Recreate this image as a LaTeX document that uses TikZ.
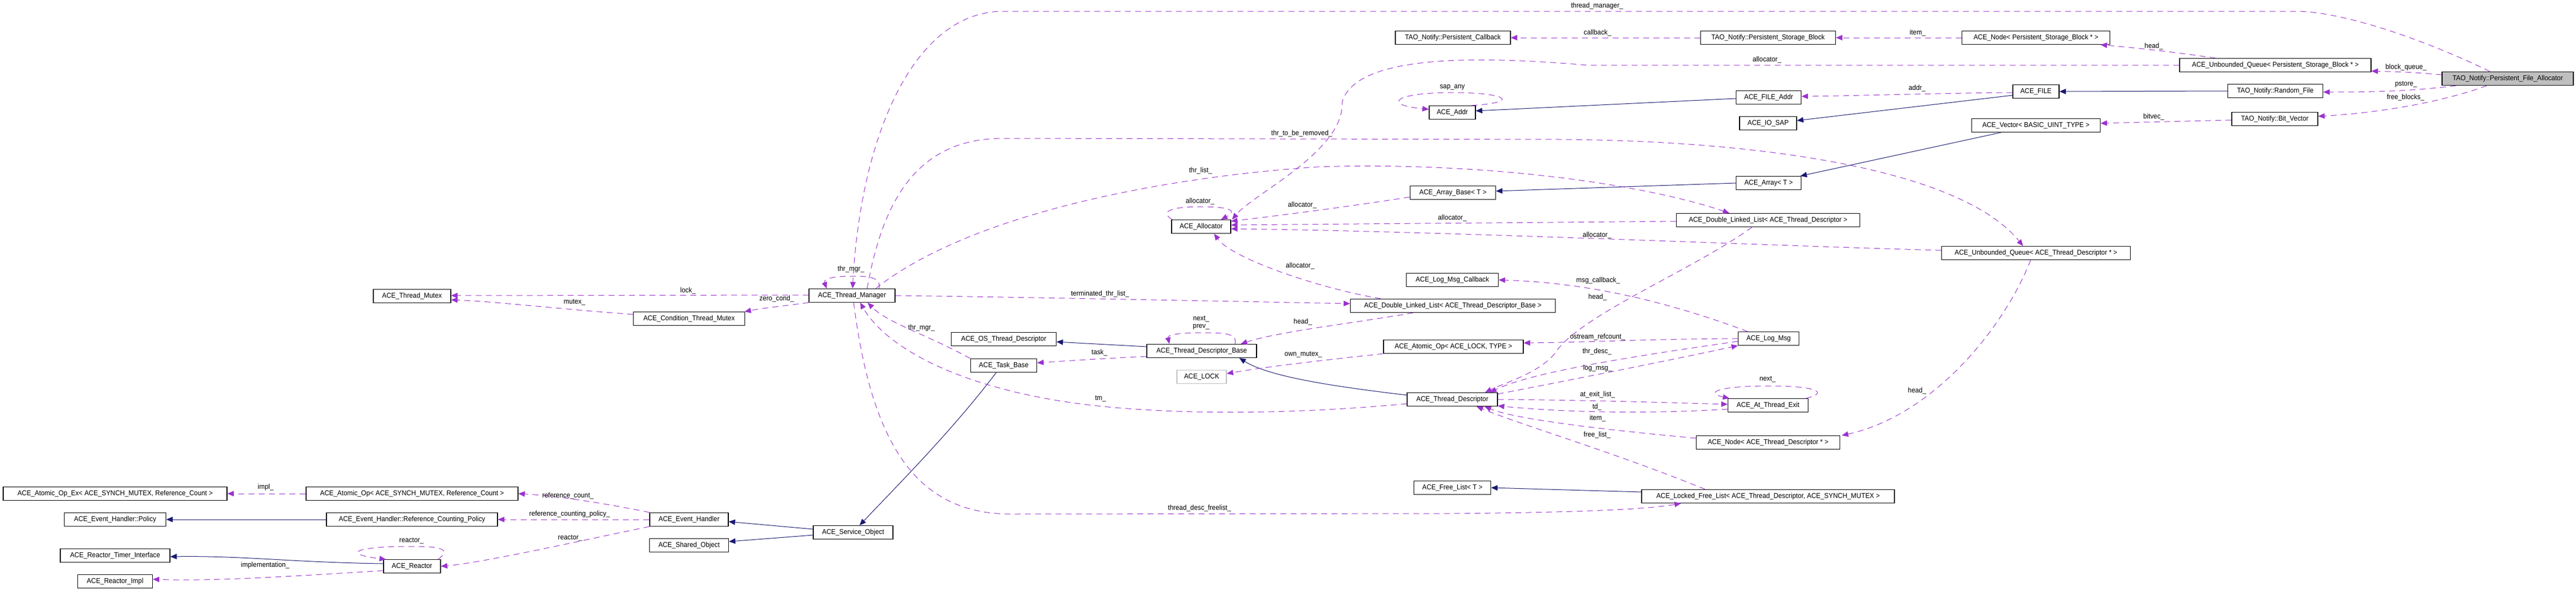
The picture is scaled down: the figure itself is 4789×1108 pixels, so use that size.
\documentclass[tikz,border=0pt]{standalone}
\usepackage{fontspec}
\setmainfont{Liberation Sans}[FakeStretch=0.93]
\usetikzlibrary{arrows.meta,calc}
\definecolor{usecol}{HTML}{9A32CD}
\definecolor{inhcol}{HTML}{191970}
\definecolor{grayfill}{HTML}{BFBFBF}
\begin{document}
\begin{tikzpicture}[x=0.5pt,y=-0.5pt,font=\fontsize{6.6}{7.5}\selectfont,
  cls/.style={draw=black,line width=0.6pt,fill=white,minimum height=12.5pt,inner sep=0pt,anchor=center},
  bw/.style={minimum width=#1*0.5pt},
  lbl/.style={inner sep=0pt,text=black},
  usage/.style={draw=usecol,line width=0.5pt,dash pattern=on 5.5pt off 4pt,-{Triangle[length=6pt,width=5pt,fill=usecol]}},
  inh/.style={draw=inhcol,line width=0.5pt,-{Triangle[length=6pt,width=5pt,fill=inhcol]}}]
\useasboundingbox (0,0) rectangle (4789,1108);
% ---------------- nodes ----------------
\node[cls,bw=244,fill=grayfill] (PFA) at (4662,146) {TAO\_Notify::Persistent\_File\_Allocator};
\node[cls,bw=356] (UQPSB) at (4230,121) {ACE\_Unbounded\_Queue< Persistent\_Storage\_Block * >};
\node[cls,bw=177] (RandomFile) at (4230,169) {TAO\_Notify::Random\_File};
\node[cls,bw=160] (BitVector) at (4229,221) {TAO\_Notify::Bit\_Vector};
\node[cls,bw=275] (NodePSB) at (3785,70) {ACE\_Node< Persistent\_Storage\_Block * >};
\node[cls,bw=86] (File) at (3785,170) {ACE\_FILE};
\node[cls,bw=239] (Vector) at (3785,233) {ACE\_Vector< BASIC\_UINT\_TYPE >};
\node[cls,bw=351] (UQTD) at (3785,470) {ACE\_Unbounded\_Queue< ACE\_Thread\_Descriptor * >};
\node[cls,bw=251] (PSBlock) at (3287,70) {TAO\_Notify::Persistent\_Storage\_Block};
\node[cls,bw=121] (FileAddr) at (3288,181) {ACE\_FILE\_Addr};
\node[cls,bw=106] (IOSAP) at (3287,229) {ACE\_IO\_SAP};
\node[cls,bw=121] (Array) at (3288,340) {ACE\_Array< T >};
\node[cls,bw=341] (DLLTD) at (3287,409) {ACE\_Double\_Linked\_List< ACE\_Thread\_Descriptor >};
\node[cls,bw=113] (LogMsg) at (3288,629) {ACE\_Log\_Msg};
\node[cls,bw=149] (AtExit) at (3287,753) {ACE\_At\_Thread\_Exit};
\node[cls,bw=267] (NodeTD) at (3287,822) {ACE\_Node< ACE\_Thread\_Descriptor * >};
\node[cls,bw=470] (LockedFree) at (3287,922) {ACE\_Locked\_Free\_List< ACE\_Thread\_Descriptor, ACE\_SYNCH\_MUTEX >};
\node[cls,bw=214] (PCallback) at (2701,70) {TAO\_Notify::Persistent\_Callback};
\node[cls,bw=86] (Addr) at (2700,209) {ACE\_Addr};
\node[cls,bw=159] (ArrayBase) at (2701,358) {ACE\_Array\_Base< T >};
\node[cls,bw=171] (LogMsgCB) at (2700,520) {ACE\_Log\_Msg\_Callback};
\node[cls,bw=381] (DLLBase) at (2701,568) {ACE\_Double\_Linked\_List< ACE\_Thread\_Descriptor\_Base >};
\node[cls,bw=260] (AtomicLock) at (2702,644) {ACE\_Atomic\_Op< ACE\_LOCK, TYPE >};
\node[cls,bw=168] (ThreadDesc) at (2700,742) {ACE\_Thread\_Descriptor};
\node[cls,bw=143] (FreeList) at (2700,906) {ACE\_Free\_List< T >};
\node[cls,bw=110] (Allocator) at (2233,421) {ACE\_Allocator};
\node[cls,bw=204] (TDBase) at (2234,652) {ACE\_Thread\_Descriptor\_Base};
\node[cls,bw=92,draw=grayfill] (ACELock) at (2234,700) {ACE\_LOCK};
\node[cls,bw=195] (OSTD) at (1866,630) {ACE\_OS\_Thread\_Descriptor};
\node[cls,bw=123] (TaskBase) at (1866,679) {ACE\_Task\_Base};
\node[cls,bw=160] (ThreadManager) at (1584,549) {ACE\_Thread\_Manager};
\node[cls,bw=148] (ServiceObject) at (1586,989) {ACE\_Service\_Object};
\node[cls,bw=207] (CondMutex) at (1281,592) {ACE\_Condition\_Thread\_Mutex};
\node[cls,bw=146] (EventHandler) at (1281,965) {ACE\_Event\_Handler};
\node[cls,bw=147] (SharedObject) at (1281,1013) {ACE\_Shared\_Object};
\node[cls,bw=144] (ThreadMutex) at (766,550) {ACE\_Thread\_Mutex};
\node[cls,bw=394] (AtomicOpSM) at (766,917) {ACE\_Atomic\_Op< ACE\_SYNCH\_MUTEX, Reference\_Count >};
\node[cls,bw=318] (RefCountPolicy) at (766,965) {ACE\_Event\_Handler::Reference\_Counting\_Policy};
\node[cls,bw=106] (Reactor) at (766,1052) {ACE\_Reactor};
\node[cls,bw=416] (AtomicOpEx) at (214,917) {ACE\_Atomic\_Op\_Ex< ACE\_SYNCH\_MUTEX, Reference\_Count >};
\node[cls,bw=189] (Policy) at (214,965) {ACE\_Event\_Handler::Policy};
\node[cls,bw=204] (TimerIface) at (214,1032) {ACE\_Reactor\_Timer\_Interface};
\node[cls,bw=139] (ReactorImpl) at (214,1080) {ACE\_Reactor\_Impl};
% ---------------- inheritance ----------------
\draw[inh] (RandomFile.west) -- (File.east);
\draw[inh] ($(File.west)+(0,7)$) -- ($(IOSAP.east)+(0,-5)$);
\draw[inh] ($(FileAddr.west)+(0,2)$) -- ($(Addr.east)+(0,-3)$);
\draw[inh] ($(Vector.south)+(-65,0)$) -- ($(Array.north east)+(-2,0)$);
\draw[inh] (Array.west) -- ($(ArrayBase.east)+(0,-3)$);
\draw[inh] ($(TDBase.west)+(0,-8)$) -- ($(OSTD.east)+(0,5)$);
\draw[inh] ($(ThreadDesc.west)+(0,-8)$) .. controls (2480,718) and (2360,700) .. ($(TDBase.south)+(70,0)$);
\draw[inh] ($(LockedFree.west)+(0,-8)$) -- (FreeList.east);
\draw[inh] ($(TaskBase.south)+(-14,0)$) .. controls (1770,800) and (1670,900) .. ($(ServiceObject.north)+(12,0)$);
\draw[inh] ($(ServiceObject.west)+(0,-6)$) -- ($(EventHandler.east)+(0,4)$);
\draw[inh] ($(ServiceObject.west)+(0,5)$) -- ($(SharedObject.east)+(0,-7)$);
\draw[inh] (RefCountPolicy.west) -- (Policy.east);
\draw[inh] ($(Reactor.west)+(0,-5)$) .. controls (550,1045) and (450,1032) .. ($(TimerIface.east)+(0,2)$);
% ---------------- usage ----------------
\draw[usage] ($(PFA.north)+(-33,0)$) .. controls (4500,70) and (4350,21) .. (4269,21) -- (1865,21) .. controls (1700,21) and (1600,250) .. ($(ThreadManager.north)+(1,0)$);
\node[lbl] (l1) at (2969,11) {thread\_manager\_};
\draw[usage] ($(PFA.west)+(0,-7)$) .. controls (4480,134) .. ($(UQPSB.east)+(0,11)$);
\node[lbl] (l2) at (4473,125) {block\_queue\_};
\draw[usage] ($(PFA.south)+(-96,0)$) .. controls (4480,170) and (4400,171) .. ($(RandomFile.east)+(0,2)$);
\node[lbl] (l3) at (4473,157) {pstore\_};
\draw[usage] ($(PFA.south)+(-39,0)$) .. controls (4540,190) and (4420,210) .. ($(BitVector.east)+(0,-5)$);
\node[lbl] (l4) at (4472,181) {free\_blocks\_};
\draw[usage] ($(UQPSB.north)+(-111,0)$) .. controls (4030,95) and (3960,88) .. ($(NodePSB.south east)+(-18,0)$);
\node[lbl] (l5) at (4004,86) {head\_};
\draw[usage] (UQPSB.west) -- (2950,121) .. controls (2750,104) and (2520,100) .. (2495,190) .. controls (2500,280) and (2330,360) .. ($(Allocator.north east)+(2,0)$);
\node[lbl] (l6) at (3285,111) {allocator\_};
\draw[usage] (NodePSB.west) -- (PSBlock.east);
\node[lbl] (l7) at (3565,61) {item\_};
\draw[usage] (PSBlock.west) -- (PCallback.east);
\node[lbl] (l8) at (2970,61) {callback\_};
\draw[usage] ($(Addr.north east)+(-8,0)$) .. controls (2830,190) and (2800,172) .. (2700,172) .. controls (2590,172) and (2570,195) .. ($(Addr.west)+(0,-6)$);
\node[lbl] (l9) at (2700,162) {sap\_any};
\draw[usage] ($(File.west)+(0,2)$) .. controls (3600,173) and (3450,178) .. ($(FileAddr.east)+(0,-2)$);
\node[lbl] (l10) at (3564,164) {addr\_};
\draw[usage] ($(BitVector.west)+(0,2)$) -- ($(Vector.east)+(0,-4)$);
\node[lbl] (l11) at (4004,217) {bitvec\_};
% thread manager
\draw[usage] ($(ThreadManager.west)+(0,-1)$) -- ($(ThreadMutex.east)+(0,-1)$);
\node[lbl] (l12) at (1279,540) {lock\_};
\draw[usage] (ThreadManager.south west) .. controls (1460,568) and (1420,572) .. ($(CondMutex.north east)+(-1,0)$);
\node[lbl] (l13) at (1444,555) {zero\_cond\_};
\draw[usage] ($(CondMutex.west)+(0,-8)$) .. controls (1050,575) and (920,560) .. ($(ThreadMutex.east)+(0,7)$);
\node[lbl] (l14) at (1068,562) {mutex\_};
\draw[usage] ($(ThreadManager.north)+(50,0)$) .. controls (1640,512) and (1605,513) .. (1582,513) .. controls (1550,513) and (1530,518) .. ($(ThreadManager.north)+(-47,0)$);
\node[lbl] (l15) at (1582,500) {thr\_mgr\_};
\draw[usage] ($(ThreadManager.north)+(28,0)$) .. controls (1640,380) and (1700,257) .. (1865,257) -- (2900,259) .. controls (3300,262) and (3650,320) .. ($(UQTD.north)+(-24,0)$);
\node[lbl] (l16) at (2420,248) {thr\_to\_be\_removed\_};
\draw[usage] ($(ThreadManager.north)+(44,0)$) .. controls (1800,400) and (2150,330) .. (2450,310) .. controls (2750,300) and (3050,340) .. ($(DLLTD.north)+(-72,0)$);
\node[lbl] (l17) at (2232,317) {thr\_list\_};
\draw[usage] (ThreadManager.east) .. controls (1900,552) and (2300,560) .. ($(DLLBase.west)+(0,-4)$);
\node[lbl] (l18) at (2045,546) {terminated\_thr\_list\_};
\draw[usage] ($(ThreadManager.south)+(3,0)$) .. controls (1620,820) and (1700,955) .. (1880,955) -- (2700,954) .. controls (2900,952) and (3050,948) .. ($(LockedFree.south)+(-162,0)$);
\node[lbl] (l19) at (2230,944) {thread\_desc\_freelist\_};
\draw[usage] (TaskBase.north west) .. controls (1720,620) and (1650,600) .. ($(ThreadManager.south)+(29,0)$);
\node[lbl] (l20) at (1713,609) {thr\_mgr\_};
\draw[usage] ($(ThreadDesc.west)+(0,8)$) .. controls (2400,770) and (2200,770) .. (2050,755) .. controls (1800,730) and (1650,650) .. ($(ThreadManager.south)+(15,0)$);
\node[lbl] (l21) at (2046,741) {tm\_};
% thread descriptor base
\draw[usage] ($(TDBase.west)+(0,10)$) .. controls (2050,666) and (1990,670) .. ($(TaskBase.east)+(0,-5)$);
\node[lbl] (l22) at (2044,655) {task\_};
\draw[usage] ($(TDBase.north)+(62,0)$) .. controls (2300,622) and (2285,618) .. (2240,618) .. controls (2190,618) and (2170,622) .. ($(TDBase.north)+(-60,0)$);
\node[lbl] (l23) at (2233,593) {next\_};
\node[lbl] (l23b) at (2233,607) {prev\_};
\draw[usage] ($(DLLBase.south)+(-74,0)$) .. controls (2520,600) and (2380,615) .. ($(TDBase.north east)+(-30,0)$);
\node[lbl] (l24) at (2422,598) {head\_};
\draw[usage] (AtomicLock.south west) .. controls (2450,670) and (2350,682) .. ($(ACELock.east)+(0,-6)$);
\node[lbl] (l25) at (2423,659) {own\_mutex\_};
% allocator
\draw[usage] ($(DLLBase.north)+(-134,0)$) .. controls (2450,535) and (2290,480) .. ($(Allocator.south)+(24,0)$);
\node[lbl] (l26) at (2417,494) {allocator\_};
\draw[usage] ($(Allocator.north west)+(2,0)$) .. controls (2150,390) and (2190,384) .. (2231,384) .. controls (2290,384) and (2300,392) .. ($(Allocator.north)+(37,0)$);
\node[lbl] (l27) at (2231,374) {allocator\_};
\draw[usage] ($(ArrayBase.west)+(0,8)$) .. controls (2500,385) and (2380,400) .. ($(Allocator.east)+(0,-10)$);
\node[lbl] (l28) at (2421,381) {allocator\_};
\draw[usage] ($(DLLTD.west)+(0,2)$) .. controls (2800,414) and (2500,416) .. ($(Allocator.east)+(0,-3)$);
\node[lbl] (l29) at (2700,405) {allocator\_};
\draw[usage] ($(UQTD.west)+(0,-5)$) .. controls (3300,457) and (2700,430) .. ($(Allocator.east)+(0,4)$);
\node[lbl] (l30) at (2969,437) {allocator\_};
% thread descriptor
\draw[usage] ($(DLLTD.south)+(-30,0)$) .. controls (3150,500) and (2950,580) .. (2895,650) .. controls (2870,690) and (2800,710) .. ($(ThreadDesc.north)+(61,0)$);
\node[lbl] (l31) at (2970,552) {head\_};
\draw[usage] ($(LogMsg.north)+(-39,0)$) .. controls (3100,560) and (2950,525) .. (LogMsgCB.east);
\node[lbl] (l32) at (2971,521) {msg\_callback\_};
\draw[usage] (LogMsg.west) .. controls (3050,630) and (2950,636) .. ($(AtomicLock.east)+(0,-7)$);
\node[lbl] (l33) at (2970,626) {ostream\_refcount\_};
\draw[usage] ($(LogMsg.west)+(0,5)$) .. controls (3050,660) and (2850,690) .. ($(ThreadDesc.north)+(70,0)$);
\node[lbl] (l34) at (2969,653) {thr\_desc\_};
\draw[usage] ($(ThreadDesc.north east)+(0,3)$) .. controls (2950,700) and (3100,670) .. (LogMsg.south west);
\node[lbl] (l35) at (2970,684) {log\_msg\_};
\draw[usage] (ThreadDesc.east) .. controls (2950,743) and (3100,748) .. ($(AtExit.west)+(0,-2)$);
\node[lbl] (l36) at (2970,733) {at\_exit\_list\_};
\draw[usage] ($(AtExit.west)+(0,7)$) .. controls (3050,770) and (2900,765) .. ($(ThreadDesc.east)+(0,12)$);
\node[lbl] (l37) at (2969,756) {td\_};
\draw[usage] ($(AtExit.north east)+(-5,0)$) .. controls (3400,730) and (3380,717) .. (3290,717) .. controls (3190,717) and (3170,730) .. ($(AtExit.north west)+(3,0)$);
\node[lbl] (l38) at (3286,705) {next\_};
\draw[usage] ($(NodeTD.west)+(0,-8)$) .. controls (3000,800) and (2820,780) .. ($(ThreadDesc.south)+(60,0)$);
\node[lbl] (l39) at (2970,777) {item\_};
\draw[usage] ($(LockedFree.north)+(-117,0)$) .. controls (3000,840) and (2830,790) .. ($(ThreadDesc.south)+(45,0)$);
\node[lbl] (l40) at (2969,808) {free\_list\_};
\draw[usage] ($(UQTD.south)+(-10,0)$) .. controls (3730,600) and (3600,770) .. ($(NodeTD.north east)+(3,0)$);
\node[lbl] (l41) at (3564,726) {head\_};
% bottom left
\draw[usage] (AtomicOpSM.west) -- (AtomicOpEx.east);
\node[lbl] (l42) at (494,905) {impl\_};
\draw[usage] (EventHandler.north west) .. controls (1150,940) and (1050,922) .. (AtomicOpSM.east);
\node[lbl] (l43) at (1056,921) {reference\_count\_};
\draw[usage] (EventHandler.west) -- (RefCountPolicy.east);
\node[lbl] (l44) at (1059,955) {reference\_counting\_policy\_};
\draw[usage] (EventHandler.south west) .. controls (1100,1000) and (900,1045) .. (Reactor.east);
\node[lbl] (l45) at (1060,1000) {reactor\_};
\draw[usage] ($(Reactor.west)+(0,8)$) .. controls (550,1070) and (400,1080) .. ($(ReactorImpl.east)+(0,-4)$);
\node[lbl] (l46) at (493,1050) {implementation\_};
\draw[usage] ($(Reactor.north east)+(-5,0)$) .. controls (840,1020) and (820,1015) .. (765,1015) .. controls (650,1015) and (640,1030) .. ($(Reactor.north west)+(5,0)$);
\node[lbl] (l47) at (765,1005) {reactor\_};
\end{tikzpicture}
\end{document}
